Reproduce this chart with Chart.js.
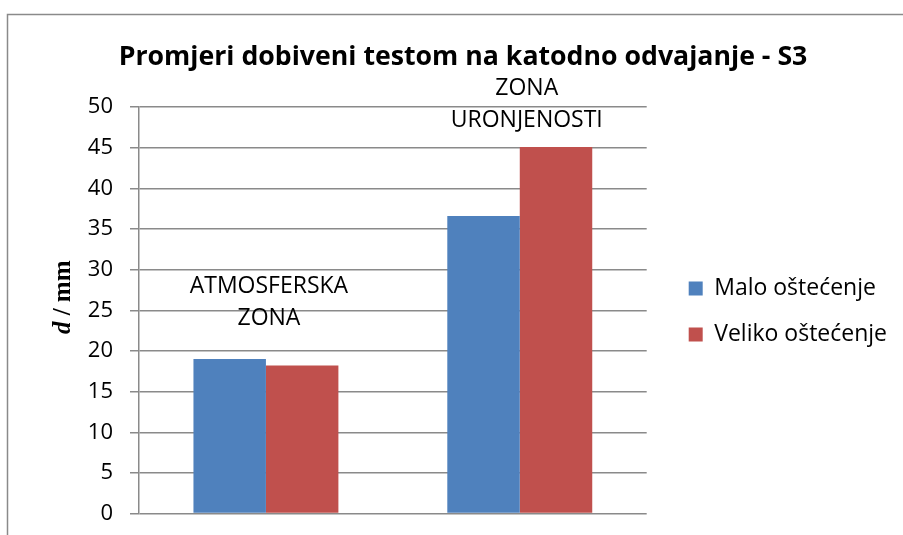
<!DOCTYPE html>
<html>
<head>
<meta charset="utf-8">
<script src="https://cdn.jsdelivr.net/npm/chart.js"></script>
<style>
  html, body { margin: 0; padding: 0; background: #fff; }
  #wrap { width: 903px; height: 535px; }
</style>
</head>
<body>
<div id="wrap"><canvas id="myChart" width="903" height="535"></canvas></div>
<script>
// podaci
const categories = ['ATMOSFERSKA ZONA', 'ZONA URONJENOSTI'];
const zoneLabels = [['ATMOSFERSKA', 'ZONA'], ['ZONA', 'URONJENOSTI']];
const seriesNames = ['Malo oštećenje', 'Veliko oštećenje'];
const maloValues = [19.0, 36.6];
const velikoValues = [18.2, 45.1];
const yTicks = [0, 5, 10, 15, 20, 25, 30, 35, 40, 45, 50];

const FONT = '"Open Sans", sans-serif';
const GRID = '#8a8a8a';

// okvir, naslov osi i oznake zona
const extras = {
  id: 'extras',
  beforeDraw(chart) {
    const c = chart.ctx;
    c.save();
    c.strokeStyle = GRID;
    c.lineWidth = 1.5;
    c.beginPath();
    c.moveTo(7.5, 535);
    c.lineTo(7.5, 14.5);
    c.lineTo(903, 14.5);
    c.stroke();
    c.restore();
  },
  afterDraw(chart) {
    const c = chart.ctx;
    const x = chart.scales.x, y = chart.scales.y;
    // y title: "d / mm"
    c.save();
    c.translate(64, (chart.chartArea.top + chart.chartArea.bottom) / 2 - 13);
    c.rotate(-Math.PI / 2);
    c.fillStyle = '#000';
    c.textBaseline = 'middle';
    const f1 = 'italic bold 25px "Liberation Serif", serif';
    const f2 = 'bold 25px "Liberation Serif", serif';
    c.font = f1;
    const w1 = c.measureText('d').width;
    c.font = f2;
    const w2 = c.measureText(' / mm').width;
    let sx = -(w1 + w2) / 2;
    c.font = f1;
    c.textAlign = 'left';
    c.fillText('d', sx, 0);
    c.font = f2;
    c.fillText(' / mm', sx + w1, 0);
    c.restore();

    // oznake zona iznad stupaca
    const anchors = [{dx: 3, v: 24.0}, {dx: 7, v: 48.4}];
    c.save();
    c.font = '23px ' + FONT;
    c.fillStyle = '#000';
    c.textAlign = 'center';
    c.textBaseline = 'middle';
    zoneLabels.forEach((lines, i) => {
      const cx = x.getPixelForValue(i) + anchors[i].dx;
      const by = y.getPixelForValue(anchors[i].v);
      for (let k = 0; k < lines.length; k++) {
        c.fillText(lines[k], cx, by - (lines.length - 1 - k) * 32);
      }
    });
    c.restore();
  }
};

function draw() {
  new Chart(document.getElementById('myChart'), {
    type: 'bar',
    data: {
      labels: categories,
      datasets: [
        {
          label: seriesNames[0],
          data: maloValues,
          backgroundColor: '#4F81BD',
          borderWidth: 0,
        },
        {
          label: seriesNames[1],
          data: velikoValues,
          backgroundColor: '#C0504D',
          borderWidth: 0,
        },
      ],
    },
    options: {
      responsive: false,
      animation: false,
      devicePixelRatio: 1,
      datasets: {
        bar: {
          categoryPercentage: 0.571,
          barPercentage: 1.0,
        },
      },
      layout: {
        padding: {left: 29, right: 6, top: 26, bottom: 21},
      },
      plugins: {
        title: {
          display: true,
          text: 'Promjeri dobiveni testom na katodno odvajanje - S3',
          color: '#000',
          font: {family: FONT, size: 26.7, weight: 'bold'},
          padding: {top: 15, bottom: 34},
        },
        legend: {
          position: 'right',
          maxWidth: 400,
          // prazan naslov legende spušta stavke niže
          title: {
            display: true,
            text: '',
            font: {size: 1},
            padding: {top: 0, bottom: 82},
          },
          labels: {
            boxWidth: 14,
            boxHeight: 14,
            padding: 23,
            color: '#000',
            font: {family: FONT, size: 23},
          },
        },
        tooltip: {enabled: false},
      },
      scales: {
        x: {
          display: false,
        },
        y: {
          min: 0,
          max: 50,
          afterBuildTicks(scale) {
            scale.ticks = yTicks.map(v => ({value: v}));
          },
          afterFit(scale) {
            scale.width = 110;
          },
          grid: {
            color: GRID,
            lineWidth: 1.5,
            tickLength: 9,
          },
          border: {color: GRID, width: 1.5},
          ticks: {
            color: '#000',
            padding: 17,
            font: {family: FONT, size: 22, lineHeight: 0.4},
          },
        },
        // prazna os samo za razmak do legende
        gap: {
          type: 'linear',
          axis: 'y',
          position: 'right',
          grid: {display: false},
          border: {display: false},
          ticks: {display: false},
          afterFit(scale) {
            scale.width = 19;
          },
        },
      },
    },
    plugins: [extras],
  });
}

Promise.all([
  document.fonts.load('23px "Open Sans"'),
  document.fonts.load('bold 27px "Open Sans"'),
  document.fonts.load('bold 25px "Liberation Serif"'),
  document.fonts.load('italic bold 25px "Liberation Serif"'),
]).then(draw, draw);
</script>
</body>
</html>
